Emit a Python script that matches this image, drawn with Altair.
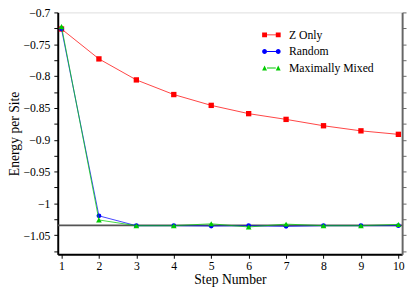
import altair as alt
import pandas as pd

steps = [1, 2, 3, 4, 5, 6, 7, 8, 9, 10]
z_only = [-0.726, -0.773, -0.806, -0.829, -0.846, -0.859, -0.868, -0.878, -0.886, -0.8915]
random_ = [-0.726, -1.0195, -1.035, -1.035, -1.0355, -1.035, -1.036, -1.035, -1.035, -1.035]
mixed = [-0.722, -1.026, -1.035, -1.035, -1.032, -1.037, -1.0325, -1.035, -1.035, -1.033]
ground = [-1.0345]

series_names = ["Z Only", "Random", "Maximally Mixed"]
series_colors = ["#ff0000", "#0000ff", "#00cc00"]
series_shapes = ["square", "circle", "triangle-up"]
series_sizes = [30, 24, 34]

y_ticks = [round(-1.075 + 0.025 * i, 3) for i in range(16)]

rows = []
for name, vals in zip(series_names, [z_only, random_, mixed]):
    for s, v in zip(steps, vals):
        rows.append({"step": s, "energy": v, "series": name})
df = pd.DataFrame(rows)
gdf = pd.DataFrame({"energy": ground})

FONT = "Liberation Serif"

xscale = alt.Scale(domain=[0.9, 10.1], nice=False, zero=False)
yscale = alt.Scale(domain=[-1.08, -0.7], nice=False, zero=False)

xaxis = alt.Axis(values=steps, format="d", title="Step Number", grid=False,
                 labelFont=FONT, labelFontSize=12, titleFont=FONT, titleFontSize=14,
                 titleFontWeight="normal", labelColor="black", titleColor="black",
                 domainColor="black", domainWidth=2, tickColor="black", tickSize=4,
                 labelPadding=3, titlePadding=1)
yaxis = alt.Axis(values=y_ticks, format="~g", title="Energy per Site", grid=False,
                 labelExpr="abs(round(datum.value*1000)) % 50 == 0 ? datum.label : ''",
                 labelFont=FONT, labelFontSize=12, titleFont=FONT, titleFontSize=14,
                 titleFontWeight="normal", labelColor="black", titleColor="black",
                 domainColor="black", domainWidth=2, tickColor="black", tickSize=4,
                 labelPadding=4, titlePadding=1, labelOverlap=False)
yaxis_r = alt.Axis(values=y_ticks, labels=False, title=None, grid=False, orient="right",
                   domainColor="#666666", domainWidth=2, tickColor="#666666", tickSize=4)

x = alt.X("step:Q", scale=xscale, axis=xaxis)
y = alt.Y("energy:Q", scale=yscale, axis=yaxis)

layers = []
rule = alt.Chart(gdf).mark_rule(color="#555555", strokeWidth=2).encode(
    y=alt.Y("energy:Q", scale=yscale, axis=yaxis))
layers.append(rule)

for name, col, shp, sz in zip(series_names, series_colors, series_shapes, series_sizes):
    base = alt.Chart(df).transform_filter(alt.datum.series == name)
    layers.append(base.mark_line(color=col, strokeWidth=1, opacity=0.75).encode(x=x, y=y))
    layers.append(base.mark_point(shape=shp, filled=True, color=col, size=sz, opacity=1).encode(x=x, y=y))

# legend-only layer (invisible marks) with line+marker legend symbols
L = "M-0.5625,-0.06H0.5625V0.06H-0.5625Z"
sq = "M-1.1875,-0.3125H-0.5625V0.3125H-1.1875Z M0.5625,-0.3125H1.1875V0.3125H0.5625Z " + L
ci = ("M-1.1875,0A0.3125,0.3125 0 1,1 -0.5625,0A0.3125,0.3125 0 1,1 -1.1875,0Z "
      "M0.5625,0A0.3125,0.3125 0 1,1 1.1875,0A0.3125,0.3125 0 1,1 0.5625,0Z " + L)
tr = "M-1.1875,0.3125L-0.5625,0.3125L-0.875,-0.3125Z M0.5625,0.3125L1.1875,0.3125L0.875,-0.3125Z " + L

legend = alt.Legend(title=None, orient="none", legendX=211, legendY=15, padding=0,
                    labelFont=FONT, labelFontSize=12, labelColor="black",
                    labelFontWeight="normal",
                    symbolSize=256, symbolStrokeWidth=0, symbolOpacity=1,
                    rowPadding=3, labelOffset=10)
leg_layer = alt.Chart(df).mark_point(filled=True, opacity=0).encode(
    x=x, y=y,
    color=alt.Color("series:N", scale=alt.Scale(domain=series_names, range=series_colors), legend=legend),
    shape=alt.Shape("series:N", scale=alt.Scale(domain=series_names, range=[sq, ci, tr]), legend=None),
)
layers.append(leg_layer)

right = alt.Chart(gdf).mark_rule(opacity=0).encode(
    y=alt.Y("energy:Q", scale=yscale, axis=yaxis_r))

main = alt.layer(*layers)
chart = alt.layer(main, right).resolve_scale(y="independent").properties(
    width=353, height=248,
    padding={"top": -5, "left": 0, "right": 0, "bottom": 0},
).configure_view(stroke="#666666", strokeWidth=2).configure(
    background="white", font=FONT
).configure_legend(labelFont=FONT, labelFontSize=12)

chart.save("out.html", embed_options={"renderer": "svg", "actions": False})
